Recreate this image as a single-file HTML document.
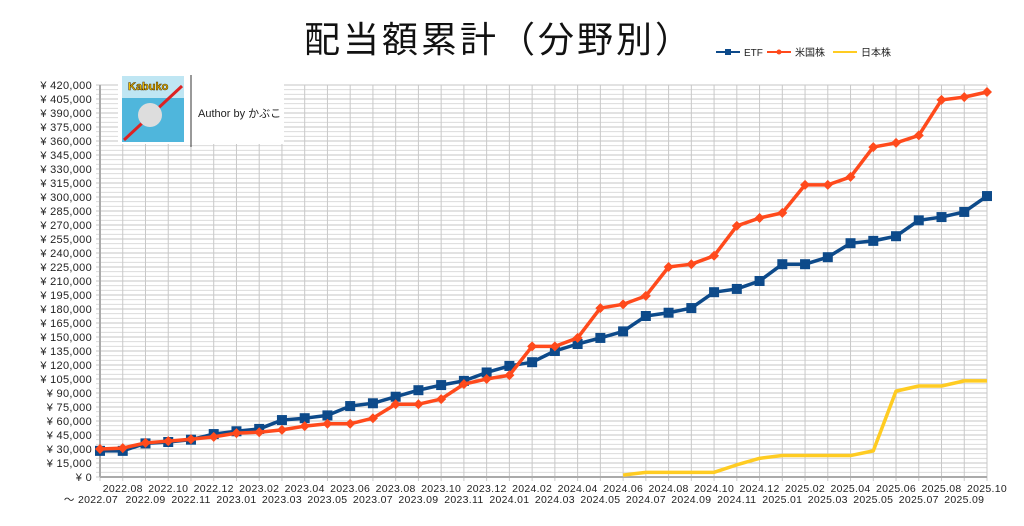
<!DOCTYPE html>
<html><head><meta charset="utf-8">
<style>
body{margin:0;background:#fff;}
svg{display:block;font-family:"Liberation Sans","Noto Sans CJK JP",sans-serif;}
</style></head>
<body>
<svg id="chart" width="1024" height="526" viewBox="0 0 1024 526" xmlns="http://www.w3.org/2000/svg">
<rect width="1024" height="526" fill="#fff"/>
<text x="499" y="52" text-anchor="middle" font-size="36" letter-spacing="3" fill="#111" font-family="'Noto Sans CJK JP',sans-serif">配当額累計（分野別）</text>
<g id="grid"></g>
<g id="yaxis"></g>
<g id="xaxis"></g>
<g id="series"></g>
<g>
<rect x="118" y="74" width="166" height="70" fill="#fff"/>
<rect x="122" y="76" width="62" height="66" fill="#4fb6dc"/>
<rect x="122" y="76" width="62" height="22" fill="#bfe6f3"/>
<text x="128" y="90" font-size="11" font-weight="bold" fill="#f5c400" stroke="#5a3a00" stroke-width="0.6">Kabuko</text>
<line x1="124" y1="140" x2="182" y2="86" stroke="#d22" stroke-width="3"/>
<circle cx="150" cy="115" r="12" fill="#ddd"/>
<line x1="191" y1="75" x2="191" y2="147" stroke="#333" stroke-width="1"/>
<text x="198" y="117" font-size="11" fill="#222">Author by かぶこ</text>
</g>
<g>
<g>
<line x1="716" y1="52" x2="740" y2="52" stroke="#0d4a8a" stroke-width="2"/><rect x="725" y="49" width="6" height="6" fill="#0d4a8a"/>
<text x="744" y="56" font-size="10" fill="#222">ETF</text></g>
<g>
<line x1="767" y1="52" x2="791" y2="52" stroke="#ff4a1c" stroke-width="2"/><circle cx="779" cy="52" r="2.5" fill="#ff4a1c"/>
<text x="795" y="56" font-size="10" fill="#222">米国株</text></g>
<g>
<line x1="833" y1="52" x2="857" y2="52" stroke="#ffcc22" stroke-width="2"/>
<text x="861" y="56" font-size="10" fill="#222">日本株</text></g>
</g>
</svg>
<script>
const months = ["2022.07","2022.08","2022.09","2022.10","2022.11","2022.12","2023.01","2023.02","2023.03","2023.04","2023.05","2023.06","2023.07","2023.08","2023.09","2023.10","2023.11","2023.12","2024.01","2024.02","2024.03","2024.04","2024.05","2024.06","2024.07","2024.08","2024.09","2024.10","2024.11","2024.12","2025.01","2025.02","2025.03","2025.04","2025.05","2025.06","2025.07","2025.08","2025.09","2025.10"];
const etfValues = [28000,28000,36000,37500,40000,46000,49000,51500,61000,63000,66000,76000,79000,86000,93000,98500,103000,112000,119000,123000,135000,142500,149000,156000,172500,176000,181000,198000,201500,210000,228000,228000,235500,250500,253000,258000,275000,278500,284000,301000];
const usValues = [30000,31000,36500,38500,40500,43000,47000,48000,50500,54500,57000,57000,63000,78000,78000,83500,99500,105000,109000,140000,140000,149000,181000,185000,194000,225000,228000,237000,269000,277500,283000,313000,313000,321500,353500,358000,366000,404000,407000,412500];
const jpValues = [null,null,null,null,null,null,null,null,null,null,null,null,null,null,null,null,null,null,null,null,null,null,null,2000,5000,5000,5000,5000,13000,20000,23000,23000,23000,23000,28000,92000,97500,97500,103000,103000];
const yTicks = [0,15000,30000,45000,60000,75000,90000,105000,120000,135000,150000,165000,180000,195000,210000,225000,240000,255000,270000,285000,300000,315000,330000,345000,360000,375000,390000,405000,420000];

const NS="http://www.w3.org/2000/svg";
const X0=100,X1=987,Y0=477,Y1=85,YMAX=420000;
const xs=i=>X0+i*(X1-X0)/(months.length-1);
const ys=v=>Y0-v/YMAX*(Y0-Y1);
function mk(tag,attrs,parent){const e=document.createElementNS(NS,tag);for(const k in attrs)e.setAttribute(k,attrs[k]);parent.appendChild(e);return e;}
const grid=document.getElementById('grid'),ya=document.getElementById('yaxis'),xa=document.getElementById('xaxis'),ser=document.getElementById('series');
for(let v=0;v<=YMAX;v+=5000){
  const l=mk('line',{x1:X0-4,x2:X1,y1:ys(v),y2:ys(v),stroke:v%15000===0?'#c4c4c4':'#dcdcdc','stroke-width':1},grid);
  
  
}
months.forEach((m,i)=>{
  const l=mk('line',{x1:xs(i),x2:xs(i),y1:Y1,y2:Y0+4,stroke:'#c8c8c8','stroke-width':1},grid);
  
  
  const t=mk('text',{x:xs(i),y:i%2?492:503,'text-anchor':'middle','font-size':10.5,'letter-spacing':0.3,fill:'#222'},xa);
  t.textContent=i===0?'〜 '+m:m;
  if(i===0)t.setAttribute('text-anchor','end'),t.setAttribute('x',xs(i)+18);
  
  
});
mk('line',{x1:X0,x2:X0,y1:Y1,y2:Y0,stroke:'#aaa','stroke-width':2},grid);
mk('line',{x1:X0,x2:X1,y1:Y0,y2:Y0,stroke:'#aaa','stroke-width':2},grid);
yTicks.forEach(v=>{
  const t=mk('text',{x:92,y:ys(v)+4,'text-anchor':'end','font-size':11,'letter-spacing':0.3,fill:'#222'},ya);
  t.textContent='¥ '+v.toLocaleString('en-US');
  
  
});
function line(vals,color,name,marker){
  const g=mk('g',{},ser);
  
  
  let d='';vals.forEach((v,i)=>{if(v==null)return;d+=(d?'L':'M')+xs(i)+','+ys(v);});
  mk('path',{d:d,fill:'none',stroke:color,'stroke-width':3.5,'stroke-linejoin':'round'},g);
  vals.forEach((v,i)=>{if(v==null)return;
    if(marker==='sq'){const r=mk('rect',{x:xs(i)-5,y:ys(v)-5,width:10,height:10,fill:color},g);}
    else if(marker==='dia'){const c=mk('path',{d:`M${xs(i)},${ys(v)-5}L${xs(i)+5},${ys(v)}L${xs(i)},${ys(v)+5}L${xs(i)-5},${ys(v)}Z`,fill:color},g);}
  });
}
line(etfValues,'#0d4a8a','etf-series','sq');
line(usValues,'#ff4a1c','us-stock-series','dia');
line(jpValues,'#ffcc22','jp-stock-series',null);
</script>
</body></html>
